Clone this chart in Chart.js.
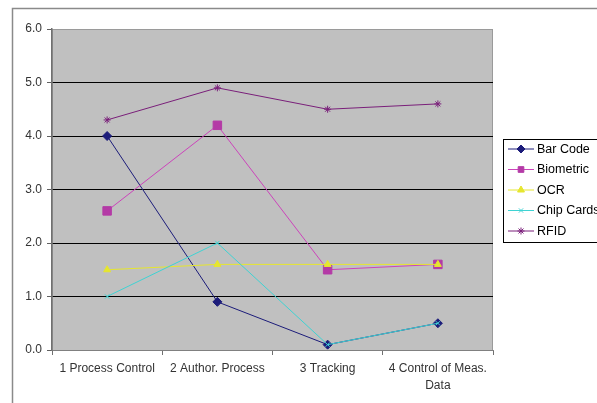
<!DOCTYPE html>
<html>
<head>
<meta charset="utf-8">
<script src="https://cdn.jsdelivr.net/npm/chart.js@4/dist/chart.umd.min.js"></script>
<style>
  body { margin: 0; background: #fff; }
  canvas { display: block; }
</style>
</head>
<body>
<canvas id="chart" width="597" height="403"></canvas>
<script>
// Chart data
const categories = ['1 Process Control', '2 Author. Process', '3 Tracking', ['4 Control of Meas.', 'Data']];
const seriesNames = ['Bar Code', 'Biometric', 'OCR', 'Chip Cards', 'RFID'];
const barCode = [4.0, 0.9, 0.1, 0.5];
const biometric = [2.6, 4.2, 1.5, 1.6];
const ocr = [1.5, 1.6, 1.6, 1.6];
const chipCards = [1.0, 2.0, 0.1, 0.5];
const rfid = [4.3, 4.9, 4.5, 4.6];
const yTicks = [0, 1, 2, 3, 4, 5, 6];

const seriesValues = [barCode, biometric, ocr, chipCards, rfid];
const lineColors = ['#1c1c7a', '#cc44bb', '#e6e62e', '#3fd3d3', '#7a1f7a'];
const pointColors = ['#1c1c7a', '#b43aa6', '#e6e62e', '#3fd3d3', '#7a1f7a'];
const pointStyles = ['rectRot', 'rect', 'triangle', 'crossRot', 'star'];
const pointSizes = [4.5, 6, 4, 3, 3.5];

Chart.defaults.font.family = "'Liberation Sans', Arial, sans-serif";

const datasets = seriesNames.map((name, i) => ({
  label: name,
  data: seriesValues[i],
  borderColor: lineColors[i],
  backgroundColor: pointColors[i],
  pointBorderColor: pointColors[i],
  pointBackgroundColor: pointColors[i],
  pointStyle: pointStyles[i],
  pointRadius: pointSizes[i],
  pointBorderWidth: 1,
  borderWidth: 1,
  tension: 0,
  order: seriesNames.length - 1 - i   // later series drawn on top, like the original
}));

// gray plot area + outer frame
const backdrop = {
  id: 'backdrop',
  beforeDraw(chart) {
    const { ctx, chartArea: a } = chart;
    ctx.save();
    ctx.strokeStyle = '#8a8a8a';
    ctx.lineWidth = 1.5;
    ctx.strokeRect(12.5, 8.5, 800, 600);
    ctx.fillStyle = '#c0c0c0';
    ctx.fillRect(a.left, a.top, a.right - a.left, a.bottom - a.top);
    ctx.strokeStyle = '#9a9a9a';
    ctx.lineWidth = 1;
    ctx.strokeRect(a.left + 0.5, a.top + 0.5, a.right - a.left - 1, a.bottom - a.top);
    ctx.restore();
  }
};

// legend box on the right
const sideLegend = {
  id: 'sideLegend',
  afterDraw(chart) {
    const ctx = chart.ctx;
    const x = 503.5, y = 139.5;
    ctx.save();
    ctx.fillStyle = '#fff';
    ctx.fillRect(x, y, 120, 103);
    ctx.strokeStyle = '#000';
    ctx.lineWidth = 1;
    ctx.strokeRect(x, y, 120, 103);
    ctx.font = "12.5px 'Liberation Sans', Arial, sans-serif";
    ctx.textBaseline = 'middle';
    chart.data.datasets.forEach((ds, i) => {
      const yy = 149 + i * 20.5;
      ctx.strokeStyle = ds.borderColor;
      ctx.beginPath();
      ctx.moveTo(508, yy);
      ctx.lineTo(534, yy);
      ctx.stroke();
      ctx.fillStyle = ds.pointBackgroundColor;
      ctx.strokeStyle = ds.pointBorderColor;
      Chart.helpers.drawPoint(ctx, {
        pointStyle: ds.pointStyle,
        radius: Math.min(ds.pointRadius, 4),
        rotation: 0,
        borderWidth: 1
      }, 521, yy);
      ctx.fillStyle = '#000';
      ctx.fillText(ds.label, 537, yy + 0.5);
    });
    ctx.restore();
  }
};

new Chart(document.getElementById('chart'), {
  type: 'line',
  data: { labels: categories, datasets: datasets },
  plugins: [backdrop, sideLegend],
  options: {
    responsive: false,
    animation: false,
    layout: { padding: { top: 29, right: 104, bottom: 0, left: 0 } },
    plugins: { legend: { display: false }, tooltip: { enabled: false } },
    scales: {
      x: {
        offset: true,
        afterFit: scale => { scale.height = 53; },
        grid: {
          offset: true,
          drawOnChartArea: false,
          drawTicks: true,
          tickLength: 5,
          tickColor: '#707070'
        },
        border: { display: true, color: '#808080', width: 1 },
        ticks: {
          color: '#333',
          padding: 5,
          maxRotation: 0,
          autoSkip: false,
          font: { size: 12, lineHeight: 1.4 }
        }
      },
      y: {
        min: 0,
        max: 6,
        afterFit: scale => { scale.width = 52; },
        afterBuildTicks: scale => { scale.ticks = yTicks.map(v => ({ value: v })); },
        grid: {
          color: ctx => (ctx.tick && ctx.tick.value > 0 && ctx.tick.value < 6) ? '#000' : 'rgba(0,0,0,0)',
          lineWidth: 1,
          drawTicks: true,
          tickLength: 5,
          tickColor: '#606060'
        },
        border: { display: true, color: '#707070', width: 1.5 },
        ticks: {
          color: '#333',
          padding: 5,
          font: { size: 12 },
          callback: v => Number(v).toFixed(1)
        }
      }
    }
  }
});
</script>
</body>
</html>
